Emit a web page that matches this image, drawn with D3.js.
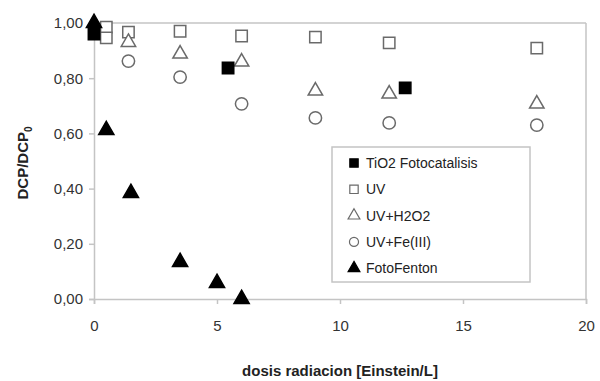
<!DOCTYPE html>
<html><head><meta charset="utf-8">
<script src="https://cdn.jsdelivr.net/npm/d3@7"></script>
<style>body{margin:0;background:#fff}svg{display:block}text{font-family:Arial,"Liberation Sans",sans-serif}</style>
</head><body><svg id="c" width="600" height="381"></svg>
<script>
const seriesNames = ["TiO2 Fotocatalisis","UV","UV+H2O2","UV+Fe(III)","FotoFenton"];
const tio2X = [0, 5.45, 12.65];
const tio2Y = [0.96, 0.837, 0.765];
const uvX = [0.5, 0.5, 1.4, 3.5, 6, 9, 12, 18];
const uvY = [0.985, 0.946, 0.967, 0.97, 0.953, 0.949, 0.928, 0.909];
const h2o2X = [1.4, 3.5, 6, 9, 12, 18];
const h2o2Y = [0.93, 0.888, 0.859, 0.754, 0.743, 0.707];
const feX = [1.4, 3.5, 6, 9, 12, 18];
const feY = [0.862, 0.804, 0.707, 0.656, 0.638, 0.63];
const fentonX = [0, 0.5, 1.5, 3.5, 5, 6];
const fentonY = [1.0, 0.612, 0.384, 0.134, 0.058, 0.0];
const xTicks = [0, 5, 10, 15, 20];
const yTicks = [0, 0.2, 0.4, 0.6, 0.8, 1.0];

const svg = d3.select("#c");
const x = d3.scaleLinear().domain([0, 20]).range([94, 586]);
const y = d3.scaleLinear().domain([0, 1]).range([299, 23]);
const axisCol = "#c4c4c4";

svg.append("line").attr("x1", x(0)).attr("x2", x(20)).attr("y1", y(1)).attr("y2", y(1)).attr("stroke", axisCol).attr("stroke-width", 1.5);
svg.append("line").attr("x1", x(20)).attr("x2", x(20)).attr("y1", y(1)).attr("y2", y(0)).attr("stroke", axisCol).attr("stroke-width", 1.5);

const fmt = d => d.toFixed(2).replace(".", ",");
const gy = svg.append("g").attr("transform", `translate(${x(0)},0)`)
  .call(d3.axisLeft(y).tickValues(yTicks).tickFormat(fmt).tickSize(5).tickPadding(6));
const gx = svg.append("g").attr("transform", `translate(0,${y(0)})`)
  .call(d3.axisBottom(x).tickValues(xTicks).tickFormat(d3.format("d")).tickSize(5).tickPadding(16));
[gx, gy].forEach(g => {
  g.select(".domain").attr("stroke", axisCol).attr("stroke-width", 1.5);
  g.selectAll(".tick line").attr("stroke", axisCol).attr("stroke-width", 1.5);
  g.selectAll(".tick text").attr("fill", "#333").style("font-size", "15px").style("font-family", "Arial, 'Liberation Sans', sans-serif");
});

svg.append("text").attr("x", 340).attr("y", 376).attr("text-anchor", "middle")
  .style("font-size", "15px").style("font-weight", "bold").attr("fill", "#222")
  .text("dosis radiacion [Einstein/L]");
const yl = svg.append("text").attr("transform", "translate(28,163) rotate(-90)").attr("text-anchor", "middle")
  .style("font-size", "15px").style("font-weight", "bold").attr("fill", "#222");
yl.append("tspan").text("DCP/DCP");
yl.append("tspan").attr("dy", 4).style("font-size", "10px").text("0");

const gray = "#6a6a6a";
const sym = {
  sq: d3.symbol().type(d3.symbolSquare).size(130),
  tri: d3.symbol().type(d3.symbolTriangle).size(100),
  otri: d3.symbol().type(d3.symbolTriangle).size(90),
  cir: d3.symbol().type(d3.symbolCircle).size(120)
};
const styles = [
  {p: sym.sq, fill: "#000", stroke: "#000"},
  {p: sym.sq, fill: "#fff", stroke: gray},
  {p: sym.otri, fill: "#fff", stroke: gray},
  {p: sym.cir, fill: "#fff", stroke: gray},
  {p: sym.tri, fill: "#000", stroke: "#000"}
];
const data = [
  d3.zip(tio2X, tio2Y), d3.zip(uvX, uvY), d3.zip(h2o2X, h2o2Y), d3.zip(feX, feY), d3.zip(fentonX, fentonY)
];
const order = [1, 2, 3, 0, 4];
order.forEach(i => {
  svg.append("g").selectAll("path").data(data[i]).join("path")
    .attr("d", styles[i].p)
    .attr("transform", d => `translate(${x(d[0])},${y(d[1])})`)
    .attr("fill", styles[i].fill).attr("stroke", styles[i].stroke).attr("stroke-width", 1.5);
});

const lg = svg.append("g");
lg.append("rect").attr("x", 332).attr("y", 147).attr("width", 198).attr("height", 135)
  .attr("fill", "#fff").attr("stroke", axisCol).attr("stroke-width", 1.5);
const legSym = {
  sq: d3.symbol().type(d3.symbolSquare).size(70),
  tri: d3.symbol().type(d3.symbolTriangle).size(60),
  cir: d3.symbol().type(d3.symbolCircle).size(65)
};
const lp = [legSym.sq, legSym.sq, legSym.tri, legSym.cir, legSym.tri];
seriesNames.forEach((n, i) => {
  const yy = 163 + i * 26.3;
  lg.append("path").attr("d", lp[i]).attr("transform", `translate(354,${yy})`)
    .attr("fill", styles[i].fill).attr("stroke", styles[i].stroke).attr("stroke-width", 1.2);
  lg.append("text").attr("x", 366).attr("y", yy + 5).style("font-size", "14px").attr("fill", "#222").text(n);
});
</script></body></html>
